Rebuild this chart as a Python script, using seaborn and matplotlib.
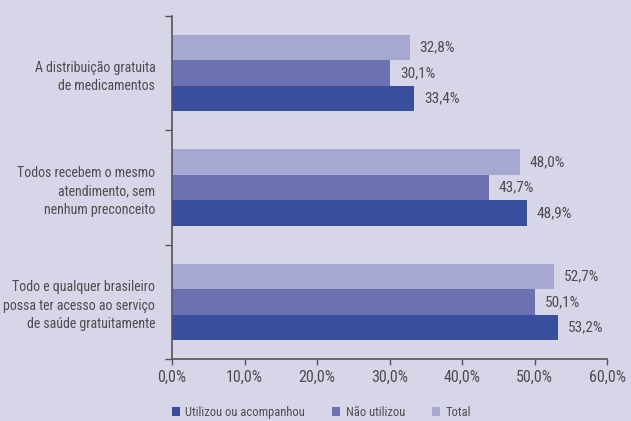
import matplotlib
matplotlib.use("Agg")
import matplotlib.pyplot as plt
import seaborn as sns
import pandas as pd
from matplotlib.ticker import FuncFormatter, FixedLocator

categories = [
    "A distribuição gratuita\nde medicamentos",
    "Todos recebem o mesmo\natendimento, sem\nnenhum preconceito",
    "Todo e qualquer brasileiro\npossa ter acesso ao serviço\nde saúde gratuitamente",
]
utilizou = [33.4, 48.9, 53.2]
nao_utilizou = [30.1, 43.7, 50.1]
total = [32.8, 48.0, 52.7]
series_names = ["Utilizou ou acompanhou", "Não utilizou", "Total"]
x_ticks = [0, 10, 20, 30, 40, 50, 60]

colors = {"Utilizou ou acompanhou": "#3a4e9e", "Não utilizou": "#6b71b1", "Total": "#a7a8d2"}
bg = "#d6d6e8"
txt = "#4d4d4d"
axis_c = "#555555"

sns.set_theme(style="white")
plt.rcParams["font.family"] = ["Roboto Condensed", "DejaVu Sans"]

rows = []
for c, u, n, t in zip(categories, utilizou, nao_utilizou, total):
    rows.append((c, "Utilizou ou acompanhou", u))
    rows.append((c, "Não utilizou", n))
    rows.append((c, "Total", t))
df = pd.DataFrame(rows, columns=["cat", "serie", "val"])

fig = plt.figure(figsize=(6.31, 4.21), dpi=100, facecolor=bg)
ax = fig.add_axes([0.2726, 0.147, 0.962 - 0.2726, 0.962 - 0.147])
ax.set_facecolor(bg)

hue_order = ["Total", "Não utilizou", "Utilizou ou acompanhou"]
sns.barplot(data=df, y="cat", x="val", hue="serie", hue_order=hue_order,
            order=categories, palette=colors, orient="h", width=0.67,
            ax=ax, saturation=1, legend=True, linewidth=0, edgecolor="none")

for cont in ax.containers:
    ax.bar_label(cont, labels=[f"{v:.1f}%".replace(".", ",") for v in cont.datavalues],
                 padding=7, fontsize=11, color=txt)

ax.set_xlim(0, 60)
ax.set_ylim(2.5, -0.5)
ax.set_xticks(x_ticks)
ax.xaxis.set_major_formatter(FuncFormatter(lambda v, p: f"{v:.1f}%".replace(".", ",")))
ax.set_xlabel("")
ax.set_ylabel("")
ax.tick_params(axis="x", length=4, width=1, color=axis_c, labelsize=11.5, labelcolor=txt, pad=4, direction="out", bottom=True)
ax.tick_params(axis="y", length=0, labelsize=10, labelcolor=txt, pad=12)
ax.yaxis.set_minor_locator(FixedLocator([-0.5, 0.5, 1.5, 2.5]))
ax.tick_params(axis="y", which="minor", length=5, width=1, color=axis_c, left=True)
for lbl in ax.get_yticklabels():
    lbl.set_horizontalalignment("right")
    lbl.set_linespacing(1.4)
for s in ["top", "right"]:
    ax.spines[s].set_visible(False)
for s in ["left", "bottom"]:
    ax.spines[s].set_color(axis_c)
    ax.spines[s].set_linewidth(1.2)

handles, labels = ax.get_legend_handles_labels()
hmap = dict(zip(labels, handles))
ax.legend([hmap[n] for n in series_names], series_names, loc="center left",
          bbox_to_anchor=(0.0, -0.155), ncol=3, frameon=False, fontsize=9,
          handlelength=0.6, handleheight=0.7, handletextpad=0.45, columnspacing=2.2,
          borderpad=0, borderaxespad=0, labelcolor=txt)

fig.savefig("out.png", dpi=100, facecolor=bg)
